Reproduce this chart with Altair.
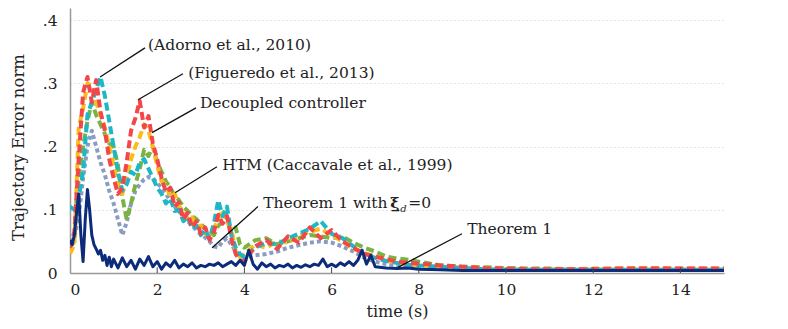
import altair as alt
import pandas as pd

# ---------------- data ----------------
T = [0.0, 0.1, 0.2, 0.3, 0.4, 0.5, 0.6, 0.7, 0.8, 0.9,
     1.0, 1.1, 1.2, 1.3, 1.4, 1.5, 1.6, 1.7, 1.8, 1.9,
     2.0, 2.1, 2.2, 2.3, 2.4, 2.5, 2.6, 2.7, 2.8, 2.9,
     3.0, 3.1, 3.2, 3.3, 3.4, 3.5, 3.6, 3.7, 3.8, 3.9,
     4.0, 4.25, 4.5, 4.75, 5.0, 5.25, 5.5, 5.75, 6.0, 6.25,
     6.5, 6.75, 7.0, 7.25, 7.5, 7.75, 8.0, 8.5, 9.0, 9.5,
     10.0, 10.5, 11.0, 11.5, 12.0, 12.5, 13.0, 13.5, 14.0, 14.5, 15.0]

adorno = [0.105, 0.100, 0.120, 0.160, 0.250, 0.270, 0.290, 0.310, 0.280, 0.240,
          0.200, 0.160, 0.130, 0.140, 0.160, 0.155, 0.175, 0.180, 0.165, 0.150,
          0.135, 0.125, 0.110, 0.118, 0.098, 0.100, 0.082, 0.088, 0.070, 0.075,
          0.060, 0.068, 0.055, 0.078, 0.115, 0.090, 0.105, 0.060, 0.040, 0.030,
          0.025, 0.040, 0.048, 0.045, 0.055, 0.062, 0.070, 0.082, 0.062, 0.055,
          0.042, 0.030, 0.024, 0.019, 0.016, 0.013, 0.012, 0.010, 0.008, 0.006,
          0.005, 0.005, 0.005, 0.005, 0.005, 0.005, 0.005, 0.005, 0.005, 0.005, 0.005]

figueredo = [0.040, 0.065, 0.180, 0.285, 0.310, 0.270, 0.305, 0.255, 0.225, 0.180,
             0.150, 0.125, 0.135, 0.175, 0.225, 0.245, 0.272, 0.230, 0.248, 0.205,
             0.180, 0.150, 0.128, 0.135, 0.105, 0.112, 0.085, 0.095, 0.072, 0.082,
             0.062, 0.072, 0.052, 0.065, 0.092, 0.078, 0.090, 0.055, 0.030, 0.020,
             0.018, 0.042, 0.052, 0.038, 0.058, 0.048, 0.072, 0.055, 0.068, 0.050,
             0.040, 0.030, 0.026, 0.022, 0.018, 0.016, 0.015, 0.012, 0.010, 0.008,
             0.007, 0.006, 0.006, 0.006, 0.006, 0.007, 0.007, 0.007, 0.007, 0.007, 0.007]

decoupled = [0.030, 0.045, 0.230, 0.260, 0.300, 0.295, 0.270, 0.250, 0.230, 0.200,
             0.170, 0.140, 0.125, 0.150, 0.180, 0.200, 0.215, 0.235, 0.225, 0.200,
             0.170, 0.145, 0.140, 0.120, 0.125, 0.105, 0.098, 0.085, 0.088, 0.072,
             0.075, 0.062, 0.060, 0.070, 0.085, 0.100, 0.080, 0.070, 0.035, 0.025,
             0.030, 0.045, 0.040, 0.050, 0.048, 0.060, 0.065, 0.070, 0.060, 0.050,
             0.038, 0.032, 0.026, 0.020, 0.016, 0.014, 0.012, 0.010, 0.009, 0.008,
             0.007, 0.006, 0.006, 0.006, 0.007, 0.007, 0.008, 0.008, 0.007, 0.007, 0.007]

htm = [0.040, 0.050, 0.150, 0.200, 0.240, 0.270, 0.250, 0.235, 0.220, 0.205,
       0.200, 0.170, 0.120, 0.085, 0.110, 0.140, 0.165, 0.195, 0.185, 0.200,
       0.175, 0.160, 0.145, 0.135, 0.122, 0.115, 0.105, 0.098, 0.090, 0.085,
       0.078, 0.070, 0.065, 0.060, 0.075, 0.080, 0.090, 0.065, 0.072, 0.045,
       0.040, 0.052, 0.055, 0.045, 0.050, 0.055, 0.060, 0.058, 0.055, 0.058,
       0.048, 0.040, 0.034, 0.026, 0.023, 0.021, 0.018, 0.012, 0.010, 0.009,
       0.008, 0.007, 0.007, 0.006, 0.006, 0.006, 0.006, 0.006, 0.006, 0.006, 0.006]

thm_xi0 = [0.050, 0.055, 0.090, 0.150, 0.200, 0.225, 0.200, 0.175, 0.155, 0.130,
           0.110, 0.085, 0.060, 0.080, 0.110, 0.130, 0.140, 0.148, 0.152, 0.150,
           0.142, 0.135, 0.125, 0.115, 0.105, 0.098, 0.090, 0.082, 0.075, 0.068,
           0.062, 0.056, 0.050, 0.042, 0.040, 0.050, 0.055, 0.045, 0.035, 0.028,
           0.024, 0.028, 0.030, 0.034, 0.040, 0.044, 0.048, 0.050, 0.048, 0.042,
           0.034, 0.024, 0.018, 0.014, 0.012, 0.010, 0.009, 0.007, 0.006, 0.005,
           0.005, 0.005, 0.005, 0.005, 0.005, 0.005, 0.005, 0.005, 0.005, 0.005, 0.005]

T_THM = [0.0, 0.05, 0.1, 0.15, 0.2, 0.25, 0.3, 0.35, 0.4, 0.45,
         0.5, 0.55, 0.6, 0.65, 0.7, 0.75, 0.8, 0.85, 0.9, 0.95,
         1.0, 1.1, 1.2, 1.3, 1.4, 1.5, 1.6, 1.7, 1.8, 1.9,
         2.0, 2.1, 2.2, 2.3, 2.4, 2.5, 2.6, 2.7, 2.8, 2.9,
         3.0, 3.1, 3.2, 3.3, 3.4, 3.5, 3.6, 3.7, 3.8, 3.9,
         4.0, 4.1, 4.2, 4.3, 4.4, 4.5, 4.6, 4.7, 4.8, 4.9,
         5.0, 5.1, 5.2, 5.3, 5.4, 5.5, 5.6, 5.7, 5.8, 5.9,
         6.0, 6.1, 6.2, 6.3, 6.4, 6.5, 6.6, 6.7, 6.8, 6.9,
         7.0, 7.25, 7.5, 7.75, 8.0, 8.5, 9.0, 9.5, 10.0, 10.5,
         11.0, 11.5, 12.0, 12.5, 13.0, 13.5, 14.0, 14.5, 15.0]

thm1 = [0.052, 0.045, 0.060, 0.095, 0.125, 0.060, 0.018, 0.085, 0.132, 0.100,
        0.060, 0.045, 0.038, 0.030, 0.036, 0.020, 0.028, 0.012, 0.025, 0.010,
        0.022, 0.008, 0.024, 0.010, 0.020, 0.006, 0.022, 0.012, 0.026, 0.010,
        0.018, 0.006, 0.016, 0.010, 0.020, 0.008, 0.014, 0.010, 0.016, 0.008,
        0.012, 0.010, 0.014, 0.012, 0.016, 0.010, 0.014, 0.018, 0.012, 0.020,
        0.012, 0.036, 0.014, 0.006, 0.016, 0.010, 0.014, 0.008, 0.012, 0.010,
        0.014, 0.008, 0.012, 0.009, 0.013, 0.010, 0.014, 0.012, 0.022, 0.010,
        0.014, 0.010, 0.016, 0.012, 0.018, 0.012, 0.020, 0.036, 0.014, 0.028,
        0.010, 0.008, 0.007, 0.008, 0.006, 0.005, 0.004, 0.004, 0.004, 0.004,
        0.004, 0.004, 0.004, 0.004, 0.004, 0.004, 0.004, 0.004, 0.004]

x_ticks = [0, 2, 4, 6, 8, 10, 12, 14]
y_ticks = [0, 0.1, 0.2, 0.3, 0.4]

# annotation labels with leader lines (data units)
ann_labels = ["(Adorno et al., 2010)", "(Figueredo et al., 2013)", "Decoupled controller",
              "HTM (Caccavale et al., 1999)", "Theorem 1 with", "Theorem 1"]
ann_line_t = [0.69, 1.56, 1.88, 2.41, 3.26, 7.52]
ann_line_v = [0.310, 0.274, 0.222, 0.127, 0.040, 0.009]
ann_line_t2 = [1.72, 2.59, 2.89, 3.37, 4.31, 8.99]
ann_line_v2 = [0.356, 0.315, 0.261, 0.168, 0.105, 0.062]
ann_text_t = [1.79, 2.71, 2.98, 3.49, 4.43, 9.11]
ann_text_v = [0.361, 0.317, 0.269, 0.171, 0.110, 0.070]

# ---------------- chart ----------------
FONT = "DejaVu Serif"
FS = 15.5
xs = alt.Scale(domain=[0, 15], nice=False, zero=False)
ys = alt.Scale(domain=[0, 0.419], nice=False)

xenc = alt.X("t:Q", scale=xs, axis=alt.Axis(values=x_ticks, title="time (s)", grid=False,
                                             ticks=False, labelPadding=9, titlePadding=6,
                                             titleFontSize=16))
yenc = alt.Y("v:Q", scale=ys, axis=alt.Axis(values=y_ticks, title="Trajectory Error norm",
                                             grid=True, ticks=False, labelPadding=13,
                                             titleFontSize=16.5, titleX=-52, titleY=139,
                                             titleBaseline="middle", titleAngle=270,
                                             labelExpr="datum.value == 0 ? '0' : replace(format(datum.value, '.1f'), '0.', '.')"))


def series(times, vals, color, width, dash=None):
    df = pd.DataFrame({"t": times, "v": vals})
    kw = dict(color=color, strokeWidth=width, strokeCap="butt", strokeJoin="round", clip=True)
    if dash:
        kw["strokeDash"] = dash
    return alt.Chart(df).mark_line(**kw).encode(x=xenc, y=yenc)


ticks_df = pd.DataFrame({"t": x_ticks[1:], "v": [0] * 7, "v2": [0.009] * 7})
tick_layer = alt.Chart(ticks_df).mark_rule(color="#444", strokeWidth=1).encode(
    x=alt.X("t:Q", scale=xs), y=alt.Y("v:Q", scale=ys), y2="v2:Q")

ann_df = pd.DataFrame({"t": ann_line_t, "v": ann_line_v, "t2": ann_line_t2, "v2": ann_line_v2,
                       "tt": ann_text_t, "tv": ann_text_v, "label": ann_labels})
leader = alt.Chart(ann_df).mark_rule(color="#111", strokeWidth=1.3).encode(
    x=alt.X("t:Q", scale=xs), y=alt.Y("v:Q", scale=ys), x2="t2:Q", y2="v2:Q")
labels = alt.Chart(ann_df).mark_text(align="left", baseline="middle", font=FONT,
                                     fontSize=FS, color="#222").encode(
    x=alt.X("tt:Q", scale=xs), y=alt.Y("tv:Q", scale=ys), text="label:N")

xi_df = pd.DataFrame({"tt": [ann_text_t[4]], "tv": [ann_text_v[4]]})
xi_sym = alt.Chart(xi_df).mark_text(align="left", baseline="middle", font=FONT, fontSize=FS,
                                    fontWeight="bold", color="#222", dx=127, text="ξ̲").encode(
    x=alt.X("tt:Q", scale=xs), y=alt.Y("tv:Q", scale=ys))
xi_sub = alt.Chart(xi_df).mark_text(align="left", baseline="middle", font=FONT, fontSize=10,
                                    fontStyle="italic", color="#222", dx=137, dy=6, text="d").encode(
    x=alt.X("tt:Q", scale=xs), y=alt.Y("tv:Q", scale=ys))
xi_eq = alt.Chart(xi_df).mark_text(align="left", baseline="middle", font=FONT, fontSize=FS,
                                   color="#222", dx=145, text="=0").encode(
    x=alt.X("tt:Q", scale=xs), y=alt.Y("tv:Q", scale=ys))

chart = alt.layer(
    series(T, thm_xi0, "#8a9cc4", 4, [4, 3]),
    series(T, htm, "#7ab342", 4, [8, 4]),
    series(T, decoupled, "#fbbb1c", 4, [8, 4]),
    series(T, adorno, "#1cb8c8", 4, [8, 4]),
    series(T, figueredo, "#f2464a", 4, [8, 4]),
    series(T_THM, thm1, "#0c2b7a", 3),
    tick_layer,
    leader, labels, xi_sym, xi_sub, xi_eq,
).properties(
    width=654, height=265,
    padding={"left": 62, "top": 0, "right": 48, "bottom": 48},
    autosize=alt.AutoSizeParams(type="none"),
).configure_view(stroke=None).configure_axis(
    labelFont=FONT, titleFont=FONT, labelFontSize=FS, titleFontSize=FS,
    labelColor="#222", titleColor="#222", titleFontWeight="normal",
    domainColor="#999", domainWidth=1.5,
    gridColor="#c8c8c8", gridDash=[1, 3], gridWidth=1,
)

chart.save("out.html", embed_options={"renderer": "svg", "actions": False})
